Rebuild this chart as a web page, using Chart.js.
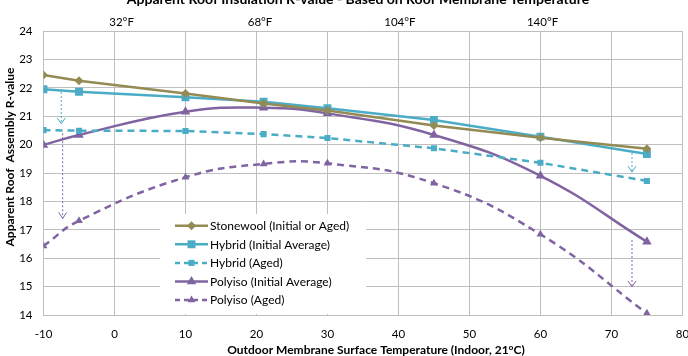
<!DOCTYPE html>
<html>
<head>
<meta charset="utf-8">
<script src="https://cdn.jsdelivr.net/npm/chart.js@4/dist/chart.umd.min.js"></script>
<style>
  html, body { margin: 0; padding: 0; background: #fff; }
  #wrap { width: 688px; height: 356px; }
</style>
</head>
<body>
<div id="wrap"><canvas id="grafRValue" width="688" height="356"></canvas></div>
<script>
// valores
const temps = [-10, -5, 10, 21, 30, 45, 60, 75];
const stonewool = [22.45, 22.25, 21.8, 21.45, 21.2, 20.67, 20.24, 19.85];
const hybridInitial = [21.95, 21.86, 21.67, 21.51, 21.28, 20.87, 20.28, 19.67];
const hybridAged = [20.51, 20.49, 20.48, 20.37, 20.23, 19.87, 19.36, 18.72];
const polyisoInitial = [19.99, 20.34, 21.16, 21.3, 21.1, 20.34, 18.9, 16.58];
const polyisoAged = [16.43, 17.32, 18.85, 19.32, 19.34, 18.64, 16.84, 14.06];

const seriesNames = [
  "Stonewool (Initial or Aged)",
  "Hybrid (Initial Average)",
  "Hybrid (Aged)",
  "Polyiso (Initial Average)",
  "Polyiso (Aged)",
];

// eje superior en Fahrenheit
const fahrenheitPos = [1, 20.5, 40.2, 60.3];
const fahrenheitLabels = ["32°F", "68°F", "104°F", "140°F"];

// flechas punteadas: [x, desde, hasta, serie]
const arrows = [
  [-7.5, 21.85, 20.73, 1],
  [-7.3, 20.4, 17.4, 3],
  [72.9, 19.7, 19.03, 1],
  [72.9, 16.64, 14.99, 3],
];

const chartTitle = "Apparent Roof Insulation R-value - Based on Roof Membrane Temperature";
const xTitle = "Outdoor Membrane Surface Temperature (Indoor, 21°C)";
const yTitle = "Apparent Roof  Assembly R-value";

const FONT = "Lato, 'Open Sans', sans-serif";
const OLIVE = "#948A54";
const AQUA = "#4BACC6";
const PURPLE = "#8064A2";
const GRID = "#BFBFBF";

const pts = (ys) => temps.map((x, i) => ({ x, y: ys[i] }));

function serie(label, data, color, style, radius, dashed, tension) {
  return {
    label,
    data: pts(data),
    borderColor: color,
    backgroundColor: color,
    borderWidth: 2.5,
    borderDash: dashed ? [7, 5] : [],
    pointStyle: style,
    pointRadius: radius,
    pointBorderWidth: 0,
    pointBackgroundColor: color,
    tension,
  };
}

const noPad = (s) => {
  s.paddingLeft = 0;
  s.paddingRight = 0;
};

const extras = {
  id: "extras",
  afterDatasetsDraw(chart) {
    const { ctx, scales } = chart;
    const x = scales.x, y = scales.y;

    // flechas
    arrows.forEach(([ax, y1, y2, idx]) => {
      const color = chart.data.datasets[idx].borderColor;
      const px = x.getPixelForValue(ax);
      const p1 = y.getPixelForValue(y1);
      const p2 = y.getPixelForValue(y2);
      ctx.save();
      ctx.strokeStyle = color;
      ctx.lineWidth = 1;
      ctx.setLineDash([2, 2]);
      ctx.beginPath();
      ctx.moveTo(px, p1);
      ctx.lineTo(px, p2);
      ctx.stroke();
      ctx.setLineDash([]);
      ctx.beginPath();
      ctx.moveTo(px - 4, p2 - 6);
      ctx.lineTo(px, p2);
      ctx.lineTo(px + 4, p2 - 6);
      ctx.stroke();
      ctx.restore();
    });

    // leyenda
    const bx = 160, by = 214, bw = 206, bh = 100;
    ctx.save();
    ctx.fillStyle = "#fff";
    ctx.fillRect(bx, by, bw, bh);
    ctx.font = "12px " + FONT;
    ctx.textBaseline = "middle";
    chart.data.datasets.forEach((ds, i) => {
      const ly = 225.7 + i * 18.6;
      ctx.strokeStyle = ds.borderColor;
      ctx.fillStyle = ds.borderColor;
      ctx.lineWidth = 2.5;
      ctx.setLineDash(ds.borderDash.length ? [5, 4] : []);
      ctx.beginPath();
      ctx.moveTo(175, ly);
      ctx.lineTo(208, ly);
      ctx.stroke();
      ctx.setLineDash([]);
      Chart.helpers.drawPoint(ctx, { pointStyle: ds.pointStyle, radius: ds.pointRadius, rotation: 0, borderWidth: 0 }, 191.5, ly);
      ctx.fillStyle = "#000";
      ctx.fillText(ds.label, 210, ly + 0.5);
    });
    ctx.restore();

    // titulos
    ctx.save();
    ctx.fillStyle = "#000";
    ctx.textAlign = "center";
    ctx.font = "bold 14px " + FONT;
    ctx.textBaseline = "alphabetic";
    ctx.fillText(chartTitle, 358, 4);
    ctx.font = "bold 12px " + FONT;
    ctx.textBaseline = "middle";
    ctx.fillText(xTitle, 376, 350);
    ctx.translate(10, 157);
    ctx.rotate(-Math.PI / 2);
    ctx.fillText(yTitle, 0, 0);
    ctx.restore();
  },
};

new Chart(document.getElementById("grafRValue"), {
  type: "line",
  data: {
    datasets: [
      serie(seriesNames[0], stonewool, OLIVE, "rectRot", 4.5, false, 0),
      serie(seriesNames[1], hybridInitial, AQUA, "rect", 5.6, false, 0),
      serie(seriesNames[2], hybridAged, AQUA, "rect", 4.3, true, 0),
      serie(seriesNames[3], polyisoInitial, PURPLE, "triangle", 5.5, false, 0.45),
      serie(seriesNames[4], polyisoAged, PURPLE, "triangle", 4.5, true, 0.45),
    ],
  },
  options: {
    responsive: false,
    animation: false,
    devicePixelRatio: 1,
    layout: { padding: { left: 0, right: 5, top: 0, bottom: 0 } },
    plugins: {
      legend: { display: false },
      tooltip: { enabled: false },
      title: { display: false },
    },
    scales: {
      x: {
        type: "linear",
        position: "bottom",
        min: -10,
        max: 80,
        afterFit: (s) => { s.height = 41; noPad(s); },
        ticks: { stepSize: 10, padding: 12, color: "#000", font: { family: FONT, size: 11.5 } },
        grid: { color: GRID, lineWidth: 1, drawTicks: false },
        border: { color: GRID },
      },
      x2: {
        type: "linear",
        position: "top",
        min: -10,
        max: 80,
        afterFit: (s) => { s.height = 31; noPad(s); },
        afterBuildTicks: (s) => { s.ticks = fahrenheitPos.map((v) => ({ value: v })); },
        ticks: {
          padding: 2,
          color: "#000",
          font: { family: FONT, size: 11.5 },
          callback: (v, i) => fahrenheitLabels[i],
        },
        grid: { display: false, drawTicks: false },
        border: { display: false },
      },
      y: {
        min: 14,
        max: 24,
        afterFit: (s) => { s.width = 43.5; },
        ticks: { stepSize: 1, padding: 11, color: "#000", font: { family: FONT, size: 11.5 } },
        grid: { color: GRID, lineWidth: 1, drawTicks: false },
        border: { color: GRID },
      },
    },
  },
  plugins: [extras],
});
</script>
</body>
</html>
